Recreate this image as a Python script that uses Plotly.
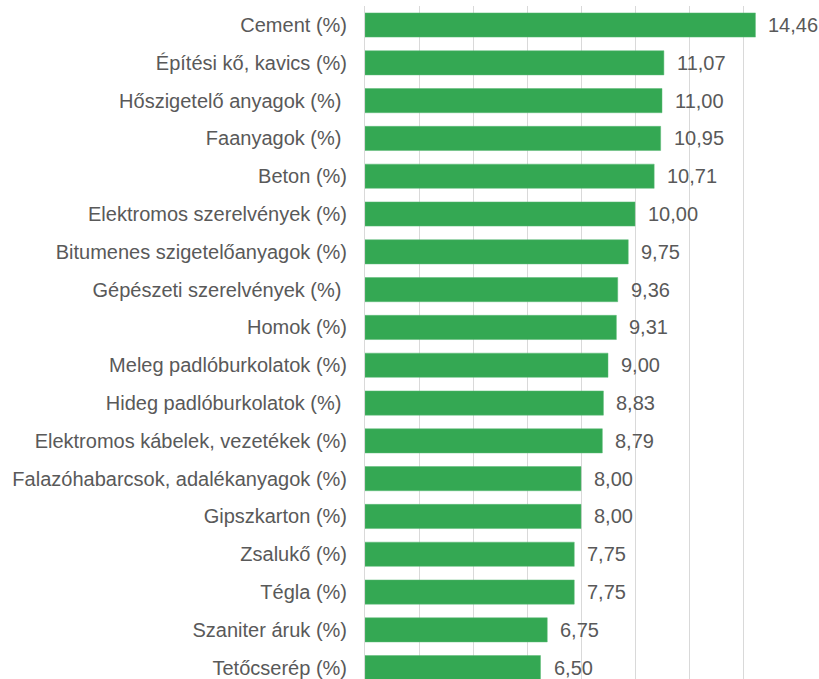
import plotly.graph_objects as go

categories = [
    "Cement (%)",
    "Építési kő, kavics (%)",
    "Hőszigetelő anyagok (%)\u00a0",
    "Faanyagok (%)\u00a0",
    "Beton (%)",
    "Elektromos szerelvények (%)",
    "Bitumenes szigetelőanyagok (%)",
    "Gépészeti szerelvények (%)\u00a0",
    "Homok (%)",
    "Meleg padlóburkolatok (%)",
    "Hideg padlóburkolatok (%)\u00a0",
    "Elektromos kábelek, vezetékek (%)",
    "Falazóhabarcsok, adalékanyagok (%)",
    "Gipszkarton (%)",
    "Zsalukő (%)",
    "Tégla (%)",
    "Szaniter áruk (%)",
    "Tetőcserép (%)",
]
values = [14.46, 11.07, 11.00, 10.95, 10.71, 10.00, 9.75, 9.36, 9.31,
          9.00, 8.83, 8.79, 8.00, 8.00, 7.75, 7.75, 6.75, 6.50]
value_labels = [f"{v:.2f}".replace(".", ",") for v in values]

FONT = "Liberation Sans, Arial, sans-serif"

fig = go.Figure()
fig.add_trace(go.Bar(
    x=values, y=categories, orientation="h",
    marker=dict(color="#34A853", line=dict(color="#5dbb76", width=0.5)),
    hoverinfo="skip",
))

for c, v, t in zip(categories, values, value_labels):
    fig.add_annotation(x=v, y=c, text=t, showarrow=False, xanchor="left",
                       xshift=11, font=dict(size=20, color="#595959", family=FONT))

fig.update_layout(
    width=819, height=679,
    margin=dict(l=365, r=22, t=6, b=0, autoexpand=False),
    plot_bgcolor="white", paper_bgcolor="white",
    bargap=0.36,
    showlegend=False,
    font=dict(family=FONT, color="#595959"),
)
fig.update_xaxes(range=[0, 16], dtick=2, showgrid=True, gridcolor="#d9d9d9",
                 gridwidth=1, showticklabels=False, zeroline=False,
                 showline=False, fixedrange=True, automargin=False)
fig.update_yaxes(categoryorder="array", categoryarray=categories,
                 range=[17.30, -0.503], showline=True, linecolor="#d9d9d9",
                 linewidth=1, tickfont=dict(size=20, color="#595959"),
                 ticklabelstandoff=13, showgrid=False, fixedrange=True,
                 automargin=False)

fig.write_html("out.html",
               config={"displayModeBar": False, "staticPlot": True},
               post_script="document.body.style.margin='0';document.body.style.overflow='hidden';")
